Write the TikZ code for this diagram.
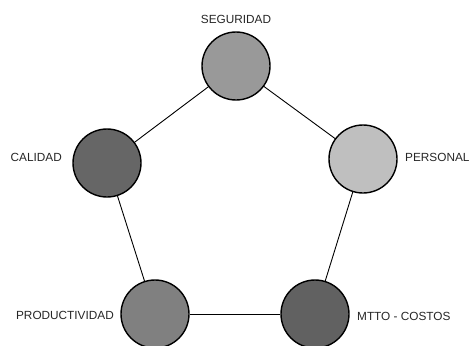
\documentclass[tikz,border=0pt]{standalone}
\usepackage{fontspec}
\setmainfont{Liberation Sans}
\begin{document}
\begin{tikzpicture}[x=1pt,y=-1pt,
  hub/.style={circle,draw=black,line width=1.4pt,minimum size=68pt,inner sep=0pt},
  tag/.style={font=\fontsize{11.8}{13}\selectfont,text=black!85,inner sep=0pt},
  link/.style={draw=black,line width=0.9pt}]
\useasboundingbox (0,0) rectangle (470,345);
\begin{scope}
\clip (0,0) rectangle (470,345);
\node[hub,fill=black!40] (seg) at (236,66) {};
\node[hub,fill=black!60] (cal) at (107,163) {};
\node[hub,fill=black!25] (per) at (363,159) {};
\node[hub,fill=black!50] (pro) at (155,314) {};
\node[hub,fill=black!62] (mtt) at (315,314) {};
\draw[link] (seg) -- (per);
\draw[link] (per) -- (mtt);
\draw[link] (mtt) -- (pro);
\draw[link] (pro) -- (cal);
\draw[link] (cal) -- (seg);
\end{scope}
\node[tag] (tseg) at (236,19) {SEGURIDAD};
\node[tag,anchor=east] (tcal) at (62,157) {CALIDAD};
\node[tag,anchor=west] (tper) at (405,157) {PERSONAL};
\node[tag,anchor=east] (tpro) at (114,315) {PRODUCTIVIDAD};
\node[tag,anchor=west] (tmtt) at (357,316) {MTTO - COSTOS};
\end{tikzpicture}
\end{document}
